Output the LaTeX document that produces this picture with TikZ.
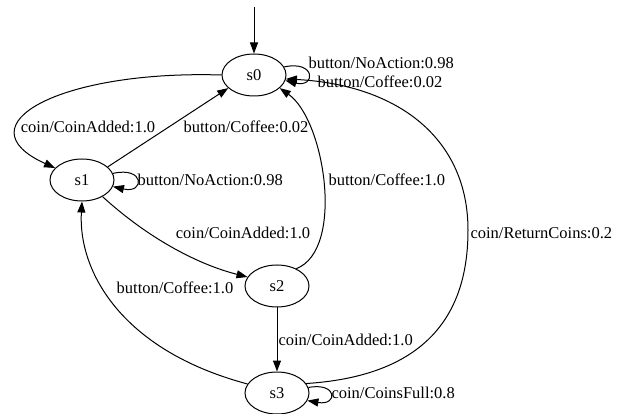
\documentclass[tikz,border=0pt]{standalone}
\usepackage{fontspec}
\setmainfont{Liberation Serif}
\usetikzlibrary{arrows.meta,shapes.geometric}

\begin{document}
\begin{tikzpicture}[x=1pt,y=-1pt,line width=1pt,
 >={Triangle[length=11pt,width=8pt]},
 state/.style={draw,ellipse,minimum width=64pt,minimum height=42pt,inner sep=0pt,font=\fontsize{16.5}{18}\selectfont},
 lbl/.style={inner sep=0pt,font=\fontsize{16.5}{18}\selectfont}]
\useasboundingbox (0,0) rectangle (627,414);

\node [state] (s0) at (254,75) {s0};
\node [state] (s1) at (82,180) {s1};
\node [state] (s2) at (277,286) {s2};
\node [state] (s3) at (277,393) {s3};
\coordinate (init) at (254,7);
\coordinate (rc) at (468,230);

\draw 
[ -> ] 
(init)--(s0);

\draw 
[ -> ] 
(s0.180) .. controls (60,70) and (-40,125) .. (s1.156);
\draw 
[ -> ] 
(s1.27)--(s0.207);
\draw 
[ -> ] 
(s0.15) .. controls (316,60) and (316,88) .. (s0.-10);
\draw 
[ -> ] 
(s1.12) .. controls (145,166) and (145,194) .. (s1.-12);
\draw 
[ -> ] 
(s1.321) .. controls (150,240) and (200,265) .. (s2.163);
\draw 
[ -> ] 
(s2.42) .. controls (345,250) and (325,120) .. (s0.333);
\draw 
[ -> ] 
(s2)--(s3);
\draw 
[ -> ] 
(s3.163) .. controls (120,350) and (78,270) .. (s1.south);
\draw 
[ -> ] 
(s3.18) .. controls (440,375) and (468,300) .. (rc) .. controls (468,140) and (400,85) .. (s0.353);
\draw 
[ -> ] 
(s3.10) .. controls (338,382) and (338,406) .. (s3.-14);

\node [lbl,anchor=west] (l00a) at (308,63) {button/NoAction:0.98};
\node [lbl] (l00b) at (380,82) {button/Coffee:0.02};
\node [lbl] (l01) at (88,127) {coin/CoinAdded:1.0};
\node [lbl] (l10) at (246,127) {button/Coffee:0.02};
\node [lbl,anchor=west] (l11) at (137,180) {button/NoAction:0.98};
\node [lbl] (l12) at (243,233) {coin/CoinAdded:1.0};
\node [lbl,anchor=west] (l20) at (328,180) {button/Coffee:1.0};
\node [lbl,anchor=west] (l23) at (278,340) {coin/CoinAdded:1.0};
\node [lbl] (l31) at (175,288) {button/Coffee:1.0};
\node [lbl,anchor=west] (l30) at (470,233) {coin/ReturnCoins:0.2};
\node [lbl,anchor=west] (l33) at (331,393) {coin/CoinsFull:0.8};

\end{tikzpicture}
\end{document}
